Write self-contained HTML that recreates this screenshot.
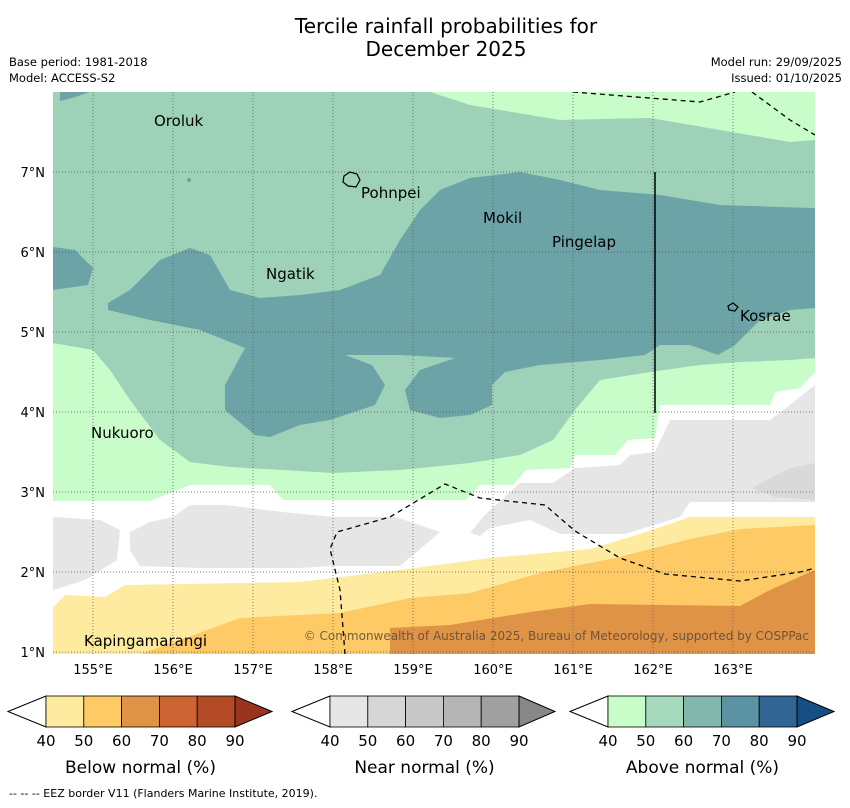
<!DOCTYPE html>
<html><head><meta charset="utf-8"><style>
body{margin:0;background:#fff;width:850px;height:804px;overflow:hidden;font-family:"DejaVu Sans","Liberation Sans",sans-serif}
svg text{font-family:"DejaVu Sans","Liberation Sans",sans-serif}
</style></head><body>
<svg id="chart" width="850" height="804" viewBox="0 0 850 804" xmlns="http://www.w3.org/2000/svg">
<text x="446" y="33" font-size="20" text-anchor="middle">Tercile rainfall probabilities for</text>
<text x="446" y="56" font-size="20" text-anchor="middle">December 2025</text>
<text x="9" y="66" font-size="11.5">Base period: 1981-2018</text>
<text x="9" y="82" font-size="11.5">Model: ACCESS-S2</text>
<text x="842" y="66" font-size="11.5" text-anchor="end">Model run: 29/09/2025</text>
<text x="842" y="82" font-size="11.5" text-anchor="end">Issued: 01/10/2025</text>
<defs><clipPath id="mapclip"><rect x="53" y="92" width="762" height="562"/></clipPath></defs>
<g id="map" clip-path="url(#mapclip)">
<rect x="53" y="92" width="762" height="562" fill="#fff"/>
<polygon fill="#c8fcc8" points="53,92 815,92 815,372 800,388 775,392 770,405 660,405 655,438 628,440 615,455 575,455 570,468 526,470 513,485 480,485 466,500 283,500 270,485 190,485 150,501 53,501"/>
<polygon fill="#9dd2b9" points="53,92 430,92 470,105 560,120 650,118 720,130 790,142 815,140 815,358 790,360 740,362 700,365 650,372 600,380 575,410 553,440 520,455 470,463 400,470 333,473 230,467 190,462 160,440 130,400 110,370 93,350 53,343"/>
<polygon fill="#6ca3a7" points="60,92 90,92 75,97 60,101"/>
<polygon fill="#6ca3a7" points="53,247 75,250 93,268 88,285 53,290"/>
<polygon fill="#6ca3a7" points="108,303 130,290 160,260 190,248 210,255 230,290 260,298 300,295 340,290 380,275 400,240 420,210 440,190 470,178 520,172 560,180 600,190 660,195 720,205 780,207 815,208 815,308 790,310 760,320 735,345 718,355 690,345 660,345 645,355 600,360 540,365 505,372 492,385 492,405 470,415 440,418 410,410 405,390 420,370 455,358 400,355 345,355 372,365 385,385 375,405 330,420 300,425 270,437 255,435 225,410 225,385 245,348 200,330 150,320 108,310"/>
<polygon fill="#e6e6e6" points="53,517 100,520 120,530 117,560 85,580 53,590"/>
<polygon fill="#e6e6e6" points="130,532 150,522 173,517 190,505 226,505 283,512 333,517 396,517 440,532 400,566 330,566 300,568 200,568 140,566 130,550"/>
<polygon fill="#e6e6e6" points="470,533 485,515 520,483 553,483 575,468 620,465 630,455 655,452 670,420 770,420 790,405 815,385 815,502 690,502 680,517 625,534 560,534 530,520 490,528 480,536"/>
<polygon fill="#d9d9d9" points="752,488 790,468 815,463 815,500 775,497"/>
<polygon fill="#feeb9f" points="53,608 65,595 105,597 125,585 300,582 415,568 490,558 590,549 640,534 690,517 815,517 815,654 53,654"/>
<polygon fill="#fdca65" points="140,654 180,640 240,618 340,613 410,598 470,593 540,573 615,558 690,539 740,529 815,525 815,654"/>
<polygon fill="#df9346" points="390,654 390,628 450,625 530,612 590,604 740,606 770,590 815,570 815,654"/>
<g id="grid"></g>
<polyline points="573,92 700,102 735,92" fill="none" stroke="#000" stroke-width="1.3" stroke-dasharray="5,4"/>
<polyline points="752,92 790,120 815,135" fill="none" stroke="#000" stroke-width="1.3" stroke-dasharray="5,4"/>
<polyline points="345,654 340,590 330,549 337,532 390,517 445,484 480,498 545,505 575,531 620,558 665,574 740,581 800,572 819,567" fill="none" stroke="#000" stroke-width="1.3" stroke-dasharray="5,4"/>
<line x1="655" y1="172" x2="655" y2="413" stroke="#000" stroke-width="1.5"/>
<path d="M344,176 L350,172 L357,174 L360,180 L356,187 L348,186 L343,182 Z" fill="none" stroke="#000" stroke-width="1.2"/>
<path d="M728,306 L733,303 L738,307 L735,311 L729,310 Z" fill="none" stroke="#000" stroke-width="1.2"/>
<circle cx="189" cy="180" r="2" fill="#6ca3a7"/>
</g>
<g font-size="15">
<text x="154" y="126">Oroluk</text>
<text x="361" y="198">Pohnpei</text>
<text x="483" y="223">Mokil</text>
<text x="552" y="247">Pingelap</text>
<text x="266" y="279">Ngatik</text>
<text x="740" y="321">Kosrae</text>
<text x="91" y="438">Nukuoro</text>
<text x="84" y="646">Kapingamarangi</text>
</g>
<text x="809" y="640" font-size="12" fill="#5a4a3a" text-anchor="end" opacity="0.85">© Commonwealth of Australia 2025, Bureau of Meteorology, supported by COSPPac</text>
<g id="ticks"></g>
<g id="cbars"></g>
<text x="9" y="797" font-size="11">--  --  -- EEZ border V11 (Flanders Marine Institute, 2019).</text>
</svg>
<script>
const lonTicks=[155,156,157,158,159,160,161,162,163];
const latTicks=[1,2,3,4,5,6,7];
const cbLabels=[40,50,60,70,80,90];
const belowColors=["#feeb9f","#fdca65","#df9346","#cc6533","#b24b26","#99351f"];
const nearColors=["#e6e6e6","#d6d6d6","#c8c8c8","#b5b5b5","#a0a0a0","#888888"];
const aboveColors=["#c8fcc8","#a6d9bd","#84b7ab","#5b93a3","#306594","#154f85"];
const cbTitles=["Below normal (%)","Near normal (%)","Above normal (%)"];
const NS="http://www.w3.org/2000/svg";
function xLon(l){return 93+(l-155)*80;}
function yLat(l){return 652-(l-1)*80;}
function mk(t,a,p){const e=document.createElementNS(NS,t);for(const k in a)e.setAttribute(k,a[k]);p.appendChild(e);return e;}
const grid=document.getElementById('grid'),ticks=document.getElementById('ticks');
lonTicks.forEach(l=>{
 const g=mk('line',{x1:xLon(l),x2:xLon(l),y1:92,y2:654,stroke:'#555','stroke-width':0.7,'stroke-dasharray':'1,2'},grid);
 
 
 const t=mk('text',{x:xLon(l),y:674,'font-size':13,'text-anchor':'middle'},ticks);t.textContent=l+'°E';
 
 
});
latTicks.forEach(l=>{
 const g=mk('line',{x1:53,x2:815,y1:yLat(l),y2:yLat(l),stroke:'#555','stroke-width':0.7,'stroke-dasharray':'1,2'},grid);
 
 
 const t=mk('text',{x:45,y:yLat(l)+5,'font-size':13,'text-anchor':'end'},ticks);t.textContent=l+'°N';
 
 
});
const cb=document.getElementById('cbars');
const bars=[{x0:46,tipL:8,tipR:272,cols:belowColors},{x0:330,tipL:292,tipR:555,cols:nearColors},{x0:608,tipL:570,tipR:834,cols:aboveColors}];
bars.forEach((b,i)=>{
 const w=37.8,y0=696,h=31,ym=y0+h/2,x1=b.x0+w*5;
 const l=mk('polygon',{points:`${b.tipL},${ym} ${b.x0},${y0} ${b.x0},${y0+h}`,fill:'#fff',stroke:'#000','stroke-width':1},cb);
 
 
 for(let k=0;k<5;k++){
  const r=mk('rect',{x:b.x0+k*w,y:y0,width:w,height:h,fill:b.cols[k],stroke:'#000','stroke-width':0.8},cb);
  
  
 }
 const rt=mk('polygon',{points:`${x1},${y0} ${b.tipR},${ym} ${x1},${y0+h}`,fill:b.cols[5],stroke:'#000','stroke-width':1},cb);
 
 
 cbLabels.forEach((v,k)=>{
  const t=mk('text',{x:b.x0+k*w,y:746,'font-size':15,'text-anchor':'middle'},cb);t.textContent=v;
  
  
 });
 const tt=mk('text',{x:b.x0+w*2.5,y:773,'font-size':17,'text-anchor':'middle'},cb);tt.textContent=cbTitles[i];
 
 
});
</script>
</body></html>
